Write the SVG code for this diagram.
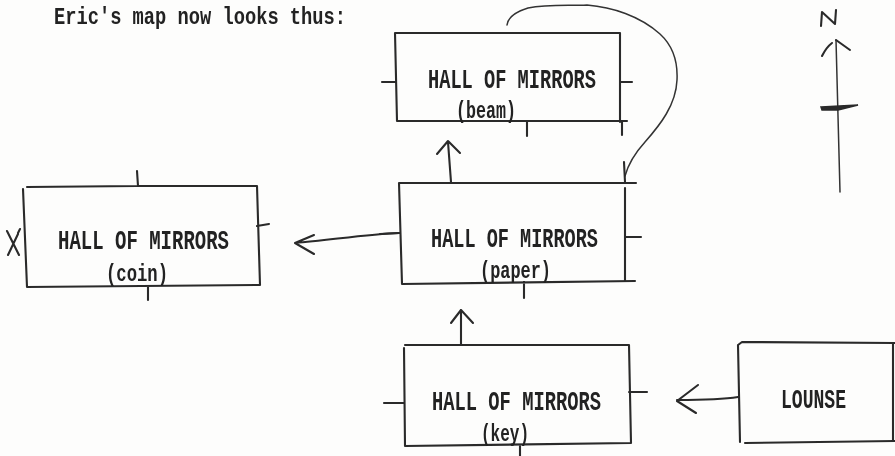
<svg xmlns="http://www.w3.org/2000/svg" width="895" height="456" viewBox="0 0 895 456">
<defs>
<filter id="scan" x="-5%" y="-5%" width="110%" height="110%"><feGaussianBlur stdDeviation="0.45"/></filter>
<style>
.ink{fill:none;stroke:#2a2a2a;stroke-width:2.1;stroke-linecap:round;stroke-linejoin:round}
.thin{fill:none;stroke:#333;stroke-width:1.5;stroke-linecap:round;stroke-linejoin:round}
.t{font-family:"Liberation Mono","DejaVu Sans Mono",monospace;font-weight:700;font-size:27px;fill:#222;filter:url(#scan)}
.s{font-size:24px}
.h{font-size:23px}
</style>
</defs>
<rect width="895" height="456" fill="#fdfdfc"/>
<text class="t h" x="54" y="24" textLength="292" lengthAdjust="spacingAndGlyphs">Eric's map now looks thus:</text>
<g id="connectors">
<path class="thin" d="M507 25C508 17 515 12 528 8C548 4 570 6 587 5C612 7 640 16 660 34C672 45 678 60 677 80C676 105 660 125 645 142C635 153 628 165 625 176"/>
<path class="ink" d="M624 162L625 182"/>
<path class="ink" d="M451 182L448 142M437 154L448 141L460 153"/>
<path class="ink" d="M461 345L461 310M451 323L461 310L473 323"/>
<path class="ink" d="M399 233C370 234 330 240 295 243M314 235L295 243L314 254"/>
<path class="ink" d="M738 397C720 400 700 400 677 400M698 385L677 401L696 413"/>
</g>
<g id="node-beam">
<path class="ink" d="M395 33H620V122M395 33L397 121H627M382 82H395M620 82H632M527 122V136M622 122V135"/>
<text class="t" x="428" y="88" textLength="168" lengthAdjust="spacingAndGlyphs">HALL OF MIRRORS</text>
<text class="t s" x="456" y="118" textLength="60" lengthAdjust="spacingAndGlyphs">(beam)</text>
</g>
<g id="node-paper">
<path class="ink" d="M399 183H636M399 183L402 284L635 281M625 188V281M380 234L399 233M625 237H641M524 282V298"/>
<text class="t" x="431" y="247" textLength="167" lengthAdjust="spacingAndGlyphs">HALL OF MIRRORS</text>
<text class="t s" x="480" y="278" textLength="71" lengthAdjust="spacingAndGlyphs">(paper)</text>
</g>
<g id="node-coin">
<path class="ink" d="M27 187L137 186L257 186L260 285L27 287L23 189M137 171L138 186M257 226L269 224M148 286V300"/>
<text class="t" x="58" y="249" textLength="171" lengthAdjust="spacingAndGlyphs">HALL OF MIRRORS</text>
<text class="t s" x="106" y="281" textLength="62" lengthAdjust="spacingAndGlyphs">(coin)</text>
<path class="ink" d="M7 231L19 255M18 234L8 255M20 229L18 233"/>
</g>
<g id="node-key">
<path class="ink" d="M405 345H629L631 443L405 446L404 348M384 403H404M629 392H647M520 446V456"/>
<text class="t" x="432" y="410" textLength="169" lengthAdjust="spacingAndGlyphs">HALL OF MIRRORS</text>
<text class="t s" x="481" y="441" textLength="48" lengthAdjust="spacingAndGlyphs">(key)</text>
</g>
<g id="node-lounge">
<path class="ink" d="M895 343L742 342L738 345L740 442M745 443L895 441M893 343V441"/>
<text class="t" x="781" y="408" textLength="65" lengthAdjust="spacingAndGlyphs">LOUNSE</text>
</g>
<g id="compass">
<path class="ink" d="M821 26L822 12L835 24L836 10"/>
<path class="thin" d="M836 40L840 192"/>
<path class="ink" d="M822 56C825 50 828 46 832 43M836 40L850 50"/>
<path d="M821 107L858 105L838 110L822 110Z" fill="#2a2a2a" stroke="#2a2a2a" stroke-width="1.5"/>
</g>
</svg>
